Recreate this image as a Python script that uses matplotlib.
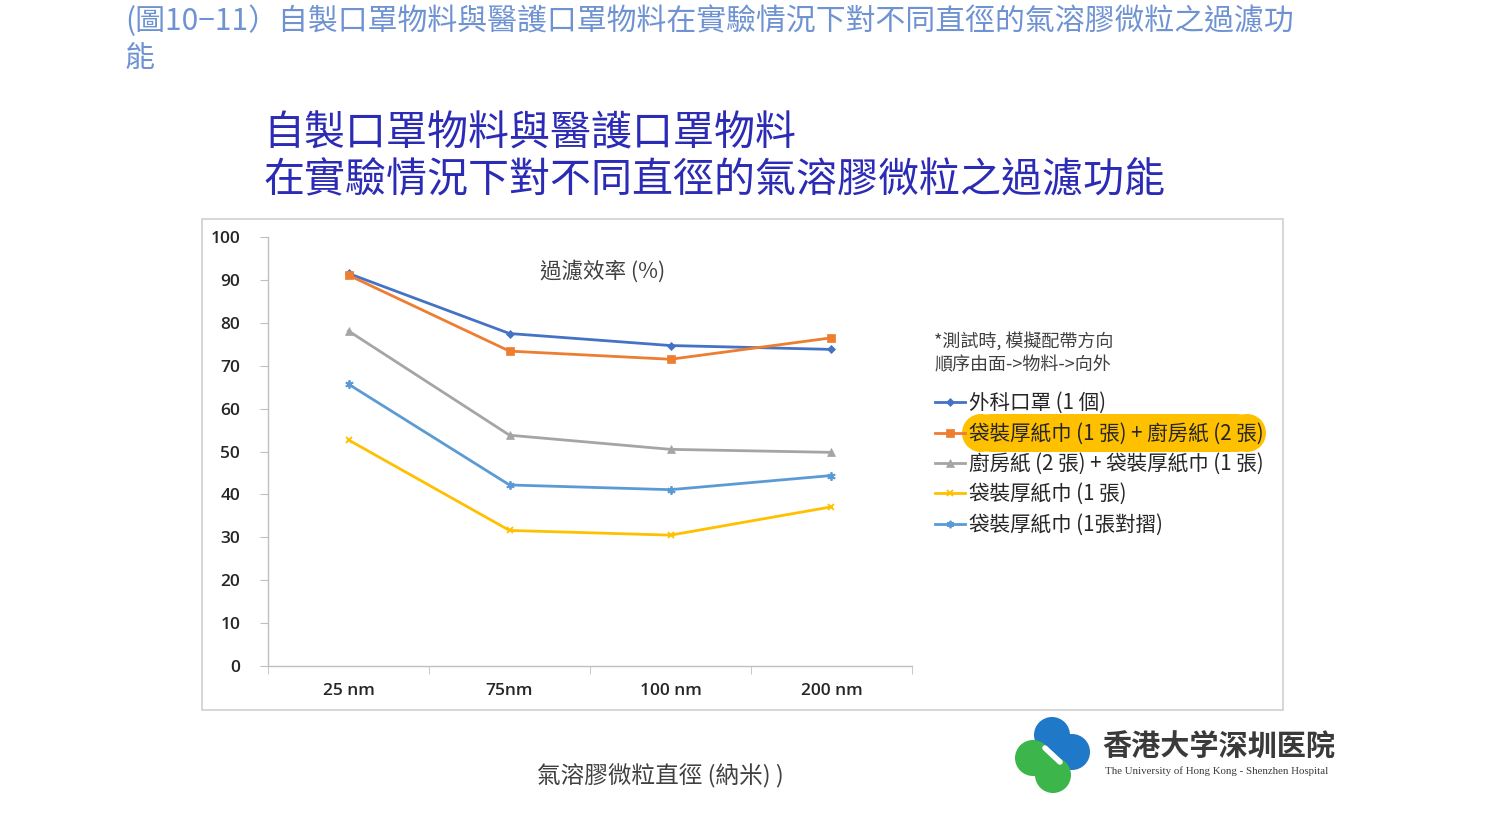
import matplotlib
matplotlib.use("Agg")
import matplotlib.pyplot as plt
from matplotlib.patches import Rectangle, FancyBboxPatch, Circle
from matplotlib.lines import Line2D

CJK = ['Noto Sans CJK TC', 'DejaVu Sans']
plt.rcParams['font.family'] = CJK

# ---------------- data ----------------
categories = ['25 nm', '75nm', '100 nm', '200 nm']
series_names = ['外科口罩 (1 個)',
                '袋裝厚紙巾 (1 張) + 廚房紙 (2 張)',
                '廚房紙 (2 張) + 袋裝厚紙巾 (1 張)',
                '袋裝厚紙巾 (1 張)',
                '袋裝厚紙巾 (1張對摺)']
surgical_mask = [91.5, 77.5, 74.7, 73.8]
towel1_kitchen2 = [91.1, 73.4, 71.5, 76.5]
kitchen2_towel1 = [78.1, 53.8, 50.5, 49.8]
towel1 = [52.7, 31.6, 30.5, 37.1]
towel1_folded = [65.7, 42.2, 41.1, 44.4]
y_ticks = [0, 10, 20, 30, 40, 50, 60, 70, 80, 90, 100]

caption = '(圖10−11）自製口罩物料與醫護口罩物料在實驗情況下對不同直徑的氣溶膠微粒之過濾功\n能'
title_lines = ['自製口罩物料與醫護口罩物料', '在實驗情況下對不同直徑的氣溶膠微粒之過濾功能']
inner_title = '過濾效率 (%)'
note = '*測試時, 模擬配帶方向\n順序由面->物料->向外'
x_label = '氣溶膠微粒直徑 (納米) )'

values = [surgical_mask, towel1_kitchen2, kitchen2_towel1, towel1, towel1_folded]
colors = ['#4472C4', '#ED7D31', '#A5A5A5', '#FFC000', '#5B9BD5']
markers = ['D', 's', '^', 'x', (6, 2, 0)]
msizes = [4, 6, 6, 5, 6]

W, H = 1485, 813
fig = plt.figure(figsize=(W / 100, H / 100), dpi=100)
fig.patch.set_facecolor('white')

# background overlay in pixel coords
bg = fig.add_axes([0, 0, 1, 1], zorder=0)
bg.set_xlim(0, W)
bg.set_ylim(H, 0)
bg.axis('off')

# chart frame
bg.add_patch(Rectangle((202, 219), 1283 - 202, 710 - 219, fill=False,
                       edgecolor='#d0d0d0', linewidth=1.2))

# caption
bg.text(125, 5, caption, fontsize=21.5, color='#6f93d2', va='top', ha='left',
        linespacing=1.3, family=CJK)

# title
bg.text(263, 134, title_lines[0], fontsize=29.5, color='#2b2bb5', va='center', ha='left',
        fontweight='light')
bg.text(263, 181, title_lines[1], fontsize=29.5, color='#2b2bb5', va='center', ha='left',
        fontweight='light')

# main axes
x0, x1, ytop, ybot = 268, 912, 237, 666
ax = fig.add_axes([x0 / W, 1 - ybot / H, (x1 - x0) / W, (ybot - ytop) / H], zorder=2)
ax.set_facecolor('none')
xs = list(range(len(categories)))
lines = []
for vals, c, m, ms in zip(values, colors, markers, msizes):
    ln, = ax.plot(xs, vals, color=c, lw=2, marker=m, markersize=ms,
                  markeredgewidth=1.3 if m in ('x',) or isinstance(m, tuple) else 0.5,
                  markeredgecolor=c, markerfacecolor=c)
    lines.append(ln)
ax.set_xlim(-0.5, len(categories) - 0.5)
ax.set_ylim(0, 100)
ax.set_yticks(y_ticks)
ax.set_yticklabels([str(v) for v in y_ticks], family=['Open Sans', 'DejaVu Sans'],
                   fontsize=12.5, color='#262626', fontweight='semibold')
ax.set_xticks(xs)
ax.set_xticklabels(categories, family=['Open Sans', 'DejaVu Sans'], fontsize=12.5,
                   color='#262626', fontweight='semibold')
ax.set_xticks([i - 0.5 for i in range(len(categories) + 1)], minor=True)
ax.tick_params(axis='x', which='major', length=0, pad=12)
ax.tick_params(axis='x', which='minor', length=6, color='#bfbfbf', direction='out')
ax.tick_params(axis='y', length=6, color='#bfbfbf', pad=14, direction='out')
for s in ['top', 'right']:
    ax.spines[s].set_visible(False)
for s in ['left', 'bottom']:
    ax.spines[s].set_color('#bfbfbf')
    ax.spines[s].set_linewidth(1)
ax.text(0.52, 0.92, inner_title, transform=ax.transAxes, fontsize=15.5,
        color='#404040', ha='center', va='center')

# note text
bg.text(934, 353, note, fontsize=13, color='#404040', va='center', ha='left',
        linespacing=1.35)

# legend (manual)
rows = [402, 433, 463, 493, 524]
bg.add_patch(FancyBboxPatch((962 + 12, 414), 1266 - 962 - 24, 452 - 414,
                            boxstyle='round,pad=0,rounding_size=18',
                            facecolor='#FFC000', edgecolor='none', zorder=1,
                            mutation_aspect=1))
bg.add_patch(Circle((962 + 19, 433), 19, facecolor='#FFC000', edgecolor='none', zorder=1))
bg.add_patch(Circle((1266 - 19, 433), 19, facecolor='#FFC000', edgecolor='none', zorder=1))
for ln, name, yr in zip(lines, series_names, rows):
    bg.add_line(Line2D([935, 965], [yr, yr], color=ln.get_color(), lw=2, zorder=2))
    bg.plot([950], [yr], marker=ln.get_marker(), color=ln.get_color(),
            markersize=ln.get_markersize() * 0.9, markeredgewidth=ln.get_markeredgewidth(),
            zorder=3)
    bg.text(969, yr + 1, name, fontsize=14.8, color='#262626', va='center', ha='left', zorder=4)

# x axis label
bg.text(660, 776, x_label, fontsize=17, color='#404040', ha='center', va='center')

# logo
for (cx, cy) in [(1052, 735), (1072, 752)]:
    bg.add_patch(Circle((cx, cy), 18, facecolor='#1f78c8', edgecolor='none'))
for (cx, cy) in [(1033, 758), (1053, 775)]:
    bg.add_patch(Circle((cx, cy), 18, facecolor='#3cb54a', edgecolor='none'))
bg.plot([1045, 1060], [748, 762], color='white', lw=4, solid_capstyle='round')
bg.text(1102, 746, '香港大学深圳医院', fontsize=21, color='#3a3a3a', ha='left',
        va='center', family=['Noto Sans CJK SC', 'DejaVu Sans'], fontweight='bold')
bg.text(1105, 771, 'The University of Hong Kong - Shenzhen Hospital', fontsize=7.8,
        color='#3a3a3a', ha='left', va='center', family=['Liberation Serif', 'DejaVu Serif'])

fig.savefig('out.png', dpi=100, facecolor='white')
